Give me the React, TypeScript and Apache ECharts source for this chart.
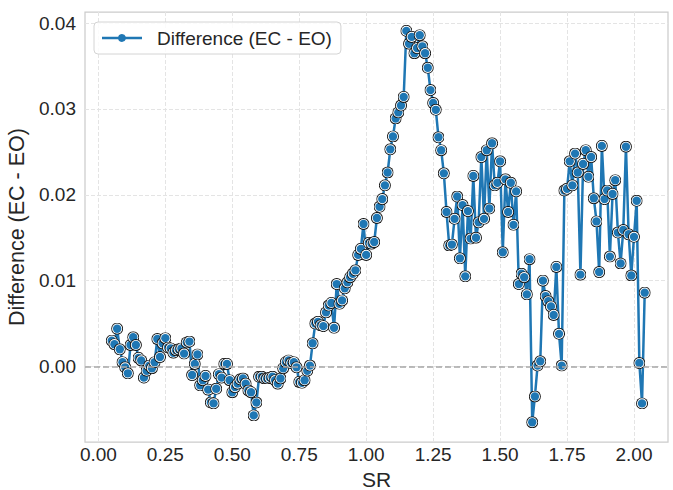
import React, { useEffect, useRef } from 'react';
import * as echarts from 'echarts';

const seriesName = 'Difference (EC - EO)';

// SR sample positions (rows of ten)
const srValues: number[] = [
  0.05, 0.06, 0.07, 0.08, 0.09, 0.10, 0.11, 0.12, 0.13, 0.14,
  0.15, 0.16, 0.17, 0.18, 0.19, 0.20, 0.21, 0.22, 0.23, 0.24,
  0.25, 0.26, 0.27, 0.28, 0.29, 0.30, 0.31, 0.32, 0.33, 0.34,
  0.35, 0.36, 0.37, 0.38, 0.39, 0.40, 0.41, 0.42, 0.43, 0.44,
  0.45, 0.46, 0.47, 0.48, 0.49, 0.50, 0.51, 0.52, 0.53, 0.54,
  0.55, 0.56, 0.57, 0.58, 0.59, 0.60, 0.61, 0.62, 0.63, 0.64,
  0.65, 0.66, 0.67, 0.68, 0.69, 0.70, 0.71, 0.72, 0.73, 0.74,
  0.75, 0.76, 0.77, 0.78, 0.79, 0.80, 0.81, 0.82, 0.83, 0.84,
  0.85, 0.86, 0.87, 0.88, 0.89, 0.90, 0.91, 0.92, 0.93, 0.94,
  0.95, 0.96, 0.97, 0.98, 0.99, 1.00, 1.01, 1.02, 1.03, 1.04,
  1.05, 1.06, 1.07, 1.08, 1.09, 1.10, 1.11, 1.12, 1.13, 1.14,
  1.15, 1.16, 1.17, 1.18, 1.19, 1.20, 1.21, 1.22, 1.23, 1.24,
  1.25, 1.26, 1.27, 1.28, 1.29, 1.30, 1.31, 1.32, 1.33, 1.34,
  1.35, 1.36, 1.37, 1.38, 1.39, 1.40, 1.41, 1.42, 1.43, 1.44,
  1.45, 1.46, 1.47, 1.48, 1.49, 1.50, 1.51, 1.52, 1.53, 1.54,
  1.55, 1.56, 1.57, 1.58, 1.59, 1.60, 1.61, 1.62, 1.63, 1.64,
  1.65, 1.66, 1.67, 1.68, 1.69, 1.70, 1.71, 1.72, 1.73, 1.74,
  1.75, 1.76, 1.77, 1.78, 1.79, 1.80, 1.81, 1.82, 1.83, 1.84,
  1.85, 1.86, 1.87, 1.88, 1.89, 1.90, 1.91, 1.92, 1.93, 1.94,
  1.95, 1.96, 1.97, 1.98, 1.99, 2.00, 2.01, 2.02, 2.03, 2.04,
];

// Difference (EC - EO) at each SR (rows of ten, aligned with srValues)
const diffValues: number[] = [
  0.0030, 0.0026, 0.0044, 0.0020, 0.0005, -0.0001, -0.0008, 0.0025, 0.0034, 0.0025,
  0.0010, 0.0007, -0.0013, -0.0005, 0.0001, -0.0002, 0.0005, 0.0032, 0.0011, 0.0027,
  0.0033, 0.0022, 0.0021, 0.0016, 0.0019, 0.0020, 0.0021, 0.0015, 0.0028, 0.0029,
  -0.0010, 0.0003, 0.0014, -0.0022, -0.0016, -0.0011, -0.0027, -0.0042, -0.0043, -0.0026,
  -0.0009, -0.0013, 0.0003, 0.0003, -0.0016, -0.0030, -0.0024, -0.0020, -0.0015, -0.0014,
  -0.0020, -0.0028, -0.0030, -0.0057, -0.0042, -0.0012, -0.0012, -0.0014, -0.0014, -0.0013,
  -0.0012, -0.0016, -0.0020, -0.0014, -0.0002, 0.0005, 0.0007, 0.0004, 0.0005, -0.0001,
  -0.0018, -0.0019, -0.0016, -0.0005, 0.0001, 0.0027, 0.0050, 0.0052, 0.0048, 0.0047,
  0.0063, 0.0071, 0.0074, 0.0045, 0.0096, 0.0073, 0.0077, 0.0091, 0.0098, 0.0104,
  0.0108, 0.0112, 0.0130, 0.0137, 0.0166, 0.0130, 0.0144, 0.0143, 0.0145, 0.0173,
  0.0186, 0.0195, 0.0211, 0.0226, 0.0253, 0.0268, 0.0289, 0.0296, 0.0304, 0.0314,
  0.0391, 0.0376, 0.0384, 0.0365, 0.0371, 0.0386, 0.0373, 0.0365, 0.0348, 0.0322,
  0.0307, 0.0299, 0.0267, 0.0252, 0.0225, 0.0180, 0.0141, 0.0142, 0.0172, 0.0198,
  0.0126, 0.0188, 0.0105, 0.0181, 0.0149, 0.0222, 0.0150, 0.0168, 0.0244, 0.0172,
  0.0252, 0.0184, 0.0260, 0.0211, 0.0214, 0.0239, 0.0133, 0.0218, 0.0180, 0.0214,
  0.0165, 0.0204, 0.0096, 0.0108, 0.0104, 0.0084, 0.0125, -0.0065, -0.0035, 0.0001,
  0.0006, 0.0100, 0.0082, 0.0076, 0.0070, 0.0060, 0.0116, 0.0038, 0.0001, 0.0205,
  0.0207, 0.0239, 0.0211, 0.0248, 0.0226, 0.0107, 0.0236, 0.0252, 0.0221, 0.0244,
  0.0196, 0.0169, 0.0110, 0.0257, 0.0195, 0.0205, 0.0128, 0.0201, 0.0217, 0.0156,
  0.0120, 0.0159, 0.0256, 0.0154, 0.0106, 0.0151, 0.0193, 0.0004, -0.0043, 0.0086,
];

const xTickValues: number[] = [0, 0.25, 0.5, 0.75, 1.0, 1.25, 1.5, 1.75, 2.0];
const yTickValues: number[] = [0, 0.01, 0.02, 0.03, 0.04];
const referenceLevel = 0;

const FONT = '"Liberation Sans", Arial, Helvetica, sans-serif';
const TEXT_COLOR = '#262626';
const BLUE = '#1f77b4';

const markerSvg =
  "<svg xmlns='http://www.w3.org/2000/svg' width='24' height='24' viewBox='0 0 24 24'>" +
  "<circle cx='12' cy='12' r='12' fill='#141414'/>" +
  "<circle cx='12' cy='12' r='10.2' fill='#ffffff'/>" +
  "<circle cx='12' cy='12' r='8.4' fill='" + BLUE + "'/>" +
  '</svg>';
const markerSymbol = 'image://data:image/svg+xml;charset=utf-8,' + encodeURIComponent(markerSvg);

const legendIcon =
  'path://M0 5.25L16.2 5.25A4 4 0 0 1 23.8 5.25L40 5.25L40 7.75L23.8 7.75A4 4 0 0 1 16.2 7.75L0 7.75Z';

export default function App() {
  const ref = useRef<HTMLDivElement>(null);

  useEffect(() => {
    document.body.style.margin = '0';
    if (!ref.current) return;
    const chart = echarts.init(ref.current, null, { renderer: 'svg' });
    const points = srValues.map((s, i) => [s, diffValues[i]]);

    chart.setOption({
      animation: false,
      backgroundColor: '#ffffff',
      textStyle: { fontFamily: FONT },
      grid: {
        left: 85,
        right: 5,
        top: 12,
        bottom: 48,
        show: true,
        borderColor: '#cccccc',
        borderWidth: 1.25,
        backgroundColor: '#ffffff',
        outerBoundsMode: 'none',
        containLabel: false,
      },
      legend: {
        left: 94,
        top: 22,
        orient: 'horizontal',
        padding: [5, 9, 5, 8],
        borderColor: '#d4d4d4',
        borderWidth: 1,
        borderRadius: 4,
        backgroundColor: 'rgba(255,255,255,0.85)',
        itemWidth: 40,
        itemHeight: 8,
        itemStyle: { color: BLUE, borderWidth: 0 },
        textStyle: {
          fontFamily: FONT,
          fontSize: 19,
          color: TEXT_COLOR,
          padding: [0, 0, 0, 10],
          lineHeight: 22,
        },
        data: [{ name: seriesName, icon: legendIcon }],
        selectedMode: false,
      },
      xAxis: {
        type: 'value',
        min: -0.05,
        max: 2.127,
        name: 'SR',
        nameLocation: 'middle',
        nameGap: 18,
        nameTextStyle: { fontFamily: FONT, fontSize: 21, lineHeight: 21, color: TEXT_COLOR },
        axisLine: { show: false },
        axisTick: { show: false, customValues: xTickValues },
        axisLabel: {
          customValues: xTickValues,
          formatter: (v: number) => v.toFixed(2),
          fontFamily: FONT,
          fontSize: 19,
          color: TEXT_COLOR,
          margin: 3,
        },
        splitLine: {
          show: true,
          lineStyle: { color: '#e4e4e4', type: [4, 2], width: 1 },
        },
      },
      yAxis: {
        type: 'value',
        min: -0.0088,
        max: 0.0413,
        name: 'Difference (EC - EO)',
        nameLocation: 'middle',
        nameGap: 50,
        nameTextStyle: { fontFamily: FONT, fontSize: 21.5, color: TEXT_COLOR },
        axisLine: { show: false },
        axisTick: { show: false, customValues: yTickValues },
        axisLabel: {
          customValues: yTickValues,
          formatter: (v: number) => v.toFixed(2),
          fontFamily: FONT,
          fontSize: 19,
          color: TEXT_COLOR,
          margin: 9,
        },
        splitLine: {
          show: true,
          lineStyle: { color: '#e4e4e4', type: [4, 2], width: 1 },
        },
      },
      series: [
        {
          type: 'line',
          name: seriesName,
          data: points,
          symbol: markerSymbol,
          symbolSize: 12,
          showSymbol: true,
          showAllSymbol: true,
          silent: true,
          lineStyle: { color: BLUE, width: 2.5 },
          itemStyle: { color: BLUE },
          emphasis: { disabled: true },
          z: 3,
          markLine: {
            silent: true,
            symbol: ['none', 'none'],
            label: { show: false },
            lineStyle: { color: '#a6a6a6', type: [6, 3], width: 1.5 },
            data: [{ yAxis: referenceLevel }],
          },
        },
      ],
    });

    return () => chart.dispose();
  }, []);

  return (
    <div
      ref={ref}
      style={{ position: 'fixed', left: 0, top: 0, width: 673, height: 490 }}
    />
  );
}
